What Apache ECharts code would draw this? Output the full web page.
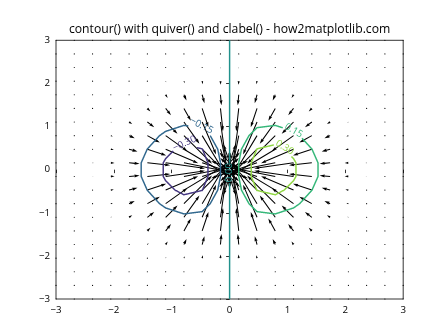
<!DOCTYPE html>
<html><head><meta charset="utf-8">
<script src="https://cdn.jsdelivr.net/npm/echarts@6/dist/echarts.min.js"></script>
<style>html,body{margin:0;padding:0;background:#fff}#c{width:448px;height:336px}</style>
</head><body><div id="c"></div>
<script>
// ---------------- data ----------------
const titleText = 'contour() with quiver() and clabel() - how2matplotlib.com';
const axisTicks = [-3, -2, -1, 0, 1, 2, 3];
// 20 x 20 quiver grid positions (same for x and y)
const gridVals = [-3, -2.684, -2.368, -2.053, -1.737, -1.421, -1.105, -0.789, -0.474, -0.158,
                  0.158, 0.474, 0.789, 1.105, 1.421, 1.737, 2.053, 2.368, 2.684, 3];
// arrow magnitudes read per quadrant: rows = |y| step, cols = |x| step (0 = nearest origin); arrows point to origin
const magQuadrant = [
  [0.42, 0.78, 0.84, 0.64, 0.37, 0.17, 0.06, 0.017, 0.004, 0.001],
  [0.78, 0.86, 0.79, 0.57, 0.32, 0.14, 0.05, 0.014, 0.003, 0.001],
  [0.84, 0.79, 0.64, 0.43, 0.23, 0.10, 0.035, 0.01, 0.002, 0],
  [0.64, 0.57, 0.43, 0.27, 0.14, 0.06, 0.02, 0.006, 0.001, 0],
  [0.37, 0.32, 0.23, 0.14, 0.07, 0.03, 0.01, 0.003, 0.001, 0],
  [0.17, 0.14, 0.10, 0.06, 0.03, 0.012, 0.004, 0.001, 0, 0],
  [0.06, 0.05, 0.035, 0.02, 0.01, 0.004, 0.001, 0, 0, 0],
  [0.017, 0.014, 0.01, 0.006, 0.003, 0.001, 0, 0, 0, 0],
  [0.004, 0.003, 0.002, 0.001, 0.001, 0, 0, 0, 0, 0],
  [0.001, 0.001, 0, 0, 0, 0, 0, 0, 0, 0]
];
const contourLevels = [-0.30, -0.15, 0.00, 0.15, 0.30];
const levelLabels = ['\u22120.30', '\u22120.15', '0.00', '0.15', '0.30'];
const pathM030 = [[-0.374,0.158],[-0.469,0.474],[-0.474,0.482],[-0.789,0.582],[-0.943,0.474],[-1.105,0.256],[-1.147,0.158],
  [-1.147,-0.158],[-1.105,-0.256],[-0.943,-0.474],[-0.789,-0.582],[-0.474,-0.482],[-0.469,-0.474],[-0.374,-0.158],[-0.374,0.158]];
const pathM015 = [[-0.158,0.158],[-0.158,0.162],[-0.205,0.474],[-0.335,0.789],[-0.474,0.973],[-0.789,1.027],[-1.105,0.888],
  [-1.211,0.789],[-1.421,0.480],[-1.424,0.474],[-1.528,0.158],[-1.528,-0.158],[-1.424,-0.474],[-1.421,-0.480],[-1.211,-0.789],
  [-1.105,-0.888],[-0.789,-1.027],[-0.474,-0.973],[-0.335,-0.789],[-0.205,-0.474],[-0.158,-0.162],[-0.158,-0.158],[-0.158,0.158]];
const path000 = [[0,-3],[0,3]];
const pathP015 = [[0.158,0.158],[0.158,0.162],[0.205,0.474],[0.335,0.789],[0.474,0.973],[0.789,1.027],[1.105,0.888],
  [1.211,0.789],[1.421,0.480],[1.424,0.474],[1.528,0.158],[1.528,-0.158],[1.424,-0.474],[1.421,-0.480],[1.211,-0.789],
  [1.105,-0.888],[0.789,-1.027],[0.474,-0.973],[0.335,-0.789],[0.205,-0.474],[0.158,-0.162],[0.158,-0.158],[0.158,0.158]];
const pathP030 = [[0.374,0.158],[0.469,0.474],[0.474,0.482],[0.789,0.582],[0.943,0.474],[1.105,0.256],[1.147,0.158],
  [1.147,-0.158],[1.105,-0.256],[0.943,-0.474],[0.789,-0.582],[0.474,-0.482],[0.469,-0.474],[0.374,-0.158],[0.374,0.158]];
const contourPaths = [pathM030, pathM015, path000, pathP015, pathP030];
// inline label anchor points (data coords) and text angle (deg)
const labelAnchors = [[-0.779,0.605],[-0.485,1.02],[0,-0.07],[1.108,0.907],[0.952,0.512]];
const labelAngles = [25, -28, 90, -30, -32];

// ---------------- style ----------------
const levelColors = ['#453781', '#31688e', '#21918c', '#35b779', '#90d743'];
const FONT = '"Open Sans", "Liberation Sans", sans-serif';
const SHAFT_W = 1.04;     // px
const PX_PER_UNIT = 62;   // arrow length px per magnitude unit
const GAP_R = [13, 13, 10, 11, 11];

function fmt(v) { return v < 0 ? '\u2212' + (-v) : String(v); }
function qIndex(k) { return k < 10 ? 9 - k : k - 10; }

const quiverData = [];
gridVals.forEach((yv, ky) => {
  gridVals.forEach((xv, kx) => {
    const m = magQuadrant[qIndex(ky)][qIndex(kx)];
    const r = Math.hypot(xv, yv);
    quiverData.push([xv, yv, -m * xv / r, -m * yv / r]);
  });
});

function renderArrow(params, api) {
  const x = api.value(0), y = api.value(1), u = api.value(2), v = api.value(3);
  const p = api.coord([x, y]);
  const mag = Math.hypot(u, v);
  const Lw = mag * PX_PER_UNIT / SHAFT_W;
  if (!(Lw >= 1)) {
    return {type: 'circle', shape: {cx: p[0], cy: p[1], r: 0.55 * SHAFT_W}, style: {fill: '#000'}};
  }
  let xs, ys = [0.5, 0.5, 1.5, 0, -1.5, -0.5, -0.5];
  if (Lw >= 5) {
    xs = [0, Lw - 4.5, Lw - 5, Lw, Lw - 5, Lw - 4.5, 0];
  } else {
    const s = Lw / 5;
    xs = [0, 0.5, 0, 5, 0, 0.5, 0].map(t => t * s);
    ys = ys.map(t => t * s);
  }
  const dx = u / mag, dy = -v / mag;
  const pts = xs.map((a, k) => [p[0] + SHAFT_W * (a * dx - ys[k] * dy), p[1] + SHAFT_W * (a * dy + ys[k] * dx)]);
  return {type: 'polygon', shape: {points: pts}, style: {fill: '#000'}};
}

function cutPolyline(pts, c, R) {
  const out = [];
  let cur = [];
  const inside = q => Math.hypot(q[0] - c[0], q[1] - c[1]) < R;
  for (let i = 0; i < pts.length - 1; i++) {
    const a = pts[i], b = pts[i + 1];
    const n = Math.max(1, Math.ceil(Math.hypot(b[0] - a[0], b[1] - a[1]) / 0.5));
    for (let k = 0; k <= n; k++) {
      if (k === 0 && i > 0) continue;
      const q = [a[0] + (b[0] - a[0]) * k / n, a[1] + (b[1] - a[1]) * k / n];
      if (inside(q)) {
        if (cur.length > 1) out.push(cur);
        cur = [];
      } else {
        cur.push(q);
      }
    }
  }
  if (cur.length > 1) out.push(cur);
  return out;
}

function renderContour(params, api) {
  const i = params.dataIndex;
  const pts = contourPaths[i].map(p => api.coord(p));
  const c = api.coord(labelAnchors[i]);
  const pieces = cutPolyline(pts, c, GAP_R[i]);
  const children = pieces.map(pp => ({
    type: 'polyline', shape: {points: pp},
    style: {stroke: levelColors[i], lineWidth: 1.46, fill: null, lineJoin: 'round'}
  }));
  children.push({
    type: 'text', x: c[0], y: c[1], rotation: labelAngles[i] * Math.PI / 180, z2: 10,
    style: {text: levelLabels[i], fill: levelColors[i], font: '9.72px ' + FONT,
            align: 'center', verticalAlign: 'middle', textAlign: 'center', textVerticalAlign: 'middle'}
  });
  return {type: 'group', children};
}

const chart = echarts.init(document.getElementById('c'), null, {renderer: 'canvas', width: 448, height: 336});
const axisCommon = {
  type: 'value', min: -3, max: 3, interval: 1,
  splitLine: {show: false},
  axisLine: {show: false},
  axisTick: {show: true, inside: false, length: 3.5, lineStyle: {color: '#000', width: 0.8}},
  axisLabel: {color: '#000', fontSize: 9.72, fontFamily: FONT, margin: 6, formatter: fmt}
};
chart.setOption({
  animation: false,
  backgroundColor: '#fff',
  graphic: [{
    type: 'text', x: 229.6, y: 30, silent: true,
    style: {text: titleText, fill: '#000', font: '12.2px ' + FONT,
            align: 'center', verticalAlign: 'middle', textAlign: 'center', textVerticalAlign: 'middle'}
  }],
  grid: {left: 56, right: 44.8, top: 40.3, bottom: 37, show: true, borderColor: '#000', borderWidth: 0.8, backgroundColor: 'transparent'},
  xAxis: Object.assign({}, axisCommon, {customValues: axisTicks}),
  yAxis: Object.assign({}, axisCommon),
  series: [
    {type: 'custom', coordinateSystem: 'cartesian2d', renderItem: renderArrow, data: quiverData, z: 2, silent: true, clip: false},
    {type: 'custom', coordinateSystem: 'cartesian2d', renderItem: renderContour,
     data: contourLevels.map((lv, i) => [labelAnchors[i][0], labelAnchors[i][1], lv]), z: 3, silent: true, clip: false}
  ]
});
</script></body></html>
